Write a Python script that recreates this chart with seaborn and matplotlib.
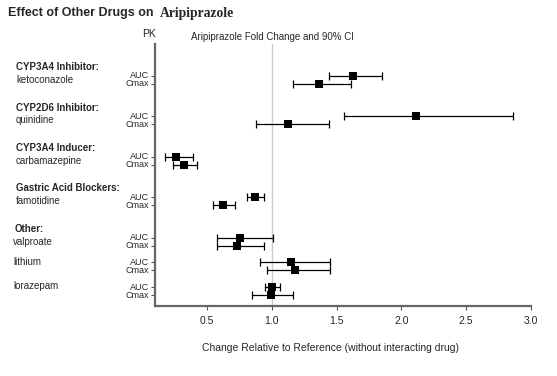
import numpy as np
import pandas as pd
import matplotlib
matplotlib.use("Agg")
import matplotlib.pyplot as plt
import matplotlib.transforms as mtransforms
import seaborn as sns

# dados
grupos = ['CYP3A4 Inhibitor:', 'CYP2D6 Inhibitor:', 'CYP3A4 Inducer:',
          'Gastric Acid Blockers:', 'Other:', 'Other:', 'Other:']
drogas = ['ketoconazole', 'quinidine', 'carbamazepine', 'famotidine',
          'valproate', 'lithium', 'lorazepam']
auc_val = [1.63, 2.11, 0.26, 0.87, 0.755, 1.15, 1.005]
auc_lo = [1.44, 1.56, 0.18, 0.81, 0.578, 0.913, 0.951]
auc_hi = [1.85, 2.86, 0.39, 0.94, 1.01, 1.448, 1.064]
cmax_val = [1.365, 1.126, 0.32, 0.624, 0.735, 1.183, 0.992]
cmax_lo = [1.165, 0.876, 0.24, 0.547, 0.578, 0.967, 0.848]
cmax_hi = [1.61, 1.44, 0.426, 0.714, 0.938, 1.448, 1.167]
x_ticks = [0.5, 1.0, 1.5, 2.0, 2.5, 3.0]

# posicoes das linhas (AUC e Cmax de cada droga)
pos = []
p = 0
for i, g in enumerate(grupos):
    if i > 0:
        p += 3.1 if g == grupos[i - 1] else 5.05
    pos.append(p)
pos = np.array(pos, dtype=float)

linhas = []
for i, d in enumerate(drogas):
    linhas.append({'droga': d, 'pk': 'AUC', 'y': pos[i], 'val': auc_val[i],
                   'lo': auc_lo[i], 'hi': auc_hi[i]})
    linhas.append({'droga': d, 'pk': 'Cmax', 'y': pos[i] + 1, 'val': cmax_val[i],
                   'lo': cmax_lo[i], 'hi': cmax_hi[i]})
df = pd.DataFrame(linhas)

sns.set_style("ticks")
plt.rcParams['font.family'] = ['Liberation Sans', 'DejaVu Sans']

fig = plt.figure(figsize=(5.57, 3.76), dpi=100)
ax = fig.add_axes([0.2783, 0.1862, 0.675, 0.6968])

ax.axvline(1.0, color='#cccccc', lw=1, zorder=0)
ax.errorbar(df['val'], df['y'], xerr=[df['val'] - df['lo'], df['hi'] - df['val']],
            fmt='none', ecolor='black', elinewidth=0.9, capsize=3, capthick=0.9)
sns.scatterplot(data=df, x='val', y='y', marker='s', s=36, color='black',
                edgecolor='black', linewidth=0, ax=ax, zorder=3, legend=False)

ax.set_xlim(0.1, 3.0)
ax.set_ylim(28.75, -4)
ax.set_xticks(x_ticks)
ax.set_xticklabels([f'{t:.1f}' for t in x_ticks], fontsize=7.5)
ax.set_yticks(df['y'])
ax.set_yticklabels(df['pk'], fontsize=6.5)
ax.tick_params(axis='y', length=3, width=0.8, pad=1, color='#555555')
ax.tick_params(axis='x', length=3, width=0.8, pad=4, color='#555555')
for lab in ax.get_yticklabels():
    lab.set_va('center')
ax.set_xlabel('Change Relative to Reference (without interacting drug)', fontsize=7.5)
ax.xaxis.set_label_coords(0.468, -0.14)
ax.set_ylabel('')
for s in ['top', 'right']:
    ax.spines[s].set_visible(False)
for s in ['left', 'bottom']:
    ax.spines[s].set_color('#666666')
    ax.spines[s].set_linewidth(1.6)

# rotulos da esquerda
trans = mtransforms.blended_transform_factory(fig.transFigure, ax.transData)
for i, d in enumerate(drogas):
    primeiro = i == 0 or grupos[i] != grupos[i - 1]
    x0 = 16 / 557 if grupos[i] != 'Other:' else 13 / 557
    if primeiro:
        xg = 16 / 557 if grupos[i] != 'Other:' else 15 / 557
        ax.text(xg, pos[i] - 1.1, grupos[i], transform=trans, fontsize=7,
                fontweight='bold', va='center', ha='left', clip_on=False)
        ax.text(x0, pos[i] + 0.5, d, transform=trans, fontsize=7,
                va='center', ha='left', clip_on=False)
    else:
        ax.text(x0, pos[i] - 0.1, d, transform=trans, fontsize=7,
                va='center', ha='left', clip_on=False)

fig.text(8 / 557, 1 - 13 / 376, 'Effect of Other Drugs on', fontsize=9,
         fontweight='bold', va='center', ha='left')
fig.text(160 / 557, 1 - 13 / 376, 'Aripiprazole', fontsize=9.8, fontweight='bold',
         family='Liberation Serif', va='center', ha='left')
fig.text(142 / 557, 1 - 34 / 376, 'PK', fontsize=7.5, va='center', ha='left')
fig.text(191 / 557, 1 - 37 / 376, 'Aripiprazole Fold Change and 90% CI', fontsize=7,
         va='center', ha='left')

plt.savefig('out.png', dpi=100, facecolor='white')
plt.close()
